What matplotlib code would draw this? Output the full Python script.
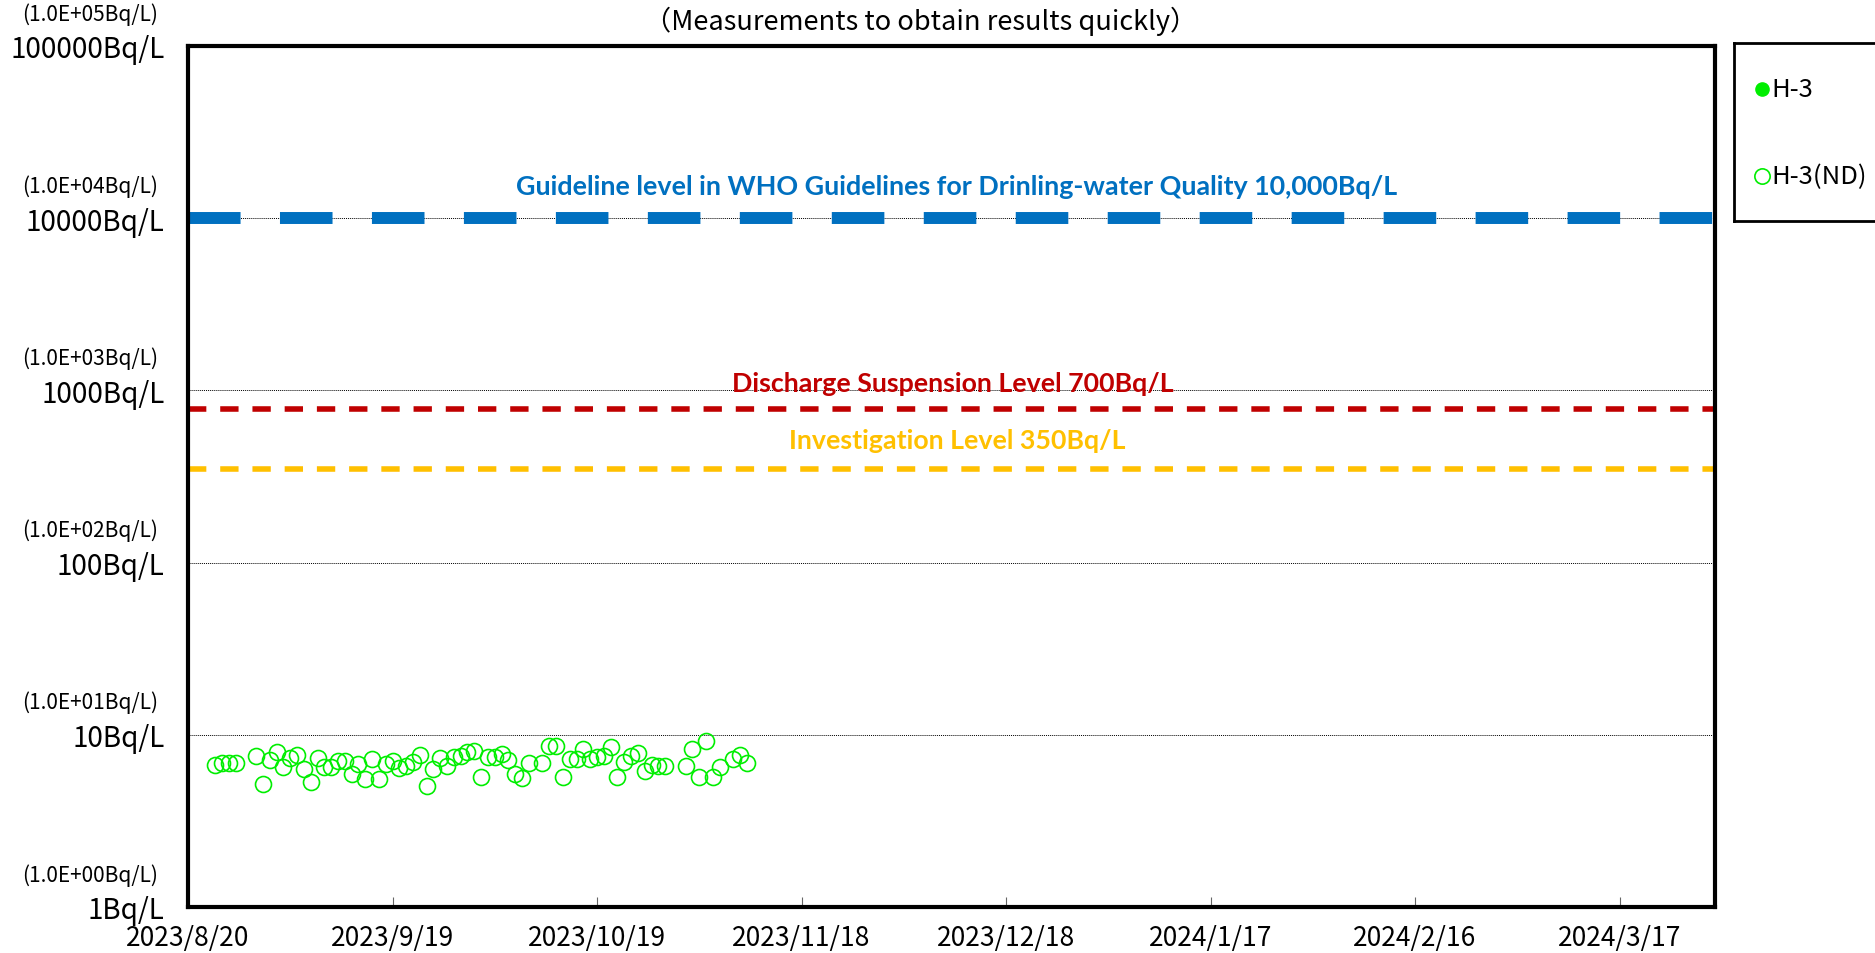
import matplotlib
matplotlib.use('Agg')
import matplotlib.pyplot as plt
import matplotlib.dates as mdates
import datetime as dt

plt.rcParams['font.family'] = ['Noto Sans CJK JP', 'DejaVu Sans']

# ---------------- data ----------------
nd_dates = [
    "2023-08-24", "2023-08-25", "2023-08-26", "2023-08-27", "2023-08-30", "2023-08-31",
    "2023-09-01", "2023-09-02", "2023-09-03", "2023-09-04", "2023-09-05", "2023-09-06",
    "2023-09-07", "2023-09-08", "2023-09-09", "2023-09-10", "2023-09-11", "2023-09-12",
    "2023-09-13", "2023-09-14", "2023-09-15", "2023-09-16", "2023-09-17", "2023-09-18",
    "2023-09-19", "2023-09-20", "2023-09-21", "2023-09-22", "2023-09-23", "2023-09-24",
    "2023-09-25", "2023-09-26", "2023-09-27", "2023-09-28", "2023-09-29", "2023-09-30",
    "2023-10-01", "2023-10-02", "2023-10-03", "2023-10-04", "2023-10-05", "2023-10-06",
    "2023-10-07", "2023-10-08", "2023-10-09", "2023-10-11", "2023-10-12", "2023-10-13",
    "2023-10-14", "2023-10-15", "2023-10-16", "2023-10-17", "2023-10-18", "2023-10-19",
    "2023-10-20", "2023-10-21", "2023-10-22", "2023-10-23", "2023-10-24", "2023-10-25",
    "2023-10-26", "2023-10-27", "2023-10-28", "2023-10-29", "2023-11-01", "2023-11-02",
    "2023-11-03", "2023-11-04", "2023-11-05", "2023-11-06", "2023-11-08", "2023-11-09",
    "2023-11-10",
]
nd_values = [
    6.7, 6.9, 6.9, 6.85, 7.55, 5.2,
    7.15, 7.95, 6.5, 7.35, 7.65, 6.35,
    5.35, 7.35, 6.5, 6.5, 7.05, 7.05,
    5.95, 6.8, 5.55, 7.25, 5.55, 6.8,
    7.05, 6.45, 6.6, 6.95, 7.65, 5.05,
    6.35, 7.35, 6.6, 7.45, 7.55, 7.95,
    8.05, 5.7, 7.45, 7.45, 7.75, 7.15,
    5.95, 5.6, 6.9, 6.9, 8.6, 8.6,
    5.7, 7.25, 7.25, 8.3, 7.25, 7.45,
    7.55, 8.5, 5.7, 6.95, 7.55, 7.85,
    6.15, 6.7, 6.6, 6.6, 6.6, 8.3,
    5.7, 9.2, 5.7, 6.5, 7.25, 7.65,
    6.9,
]

x_start = "2023-08-20"
x_end = "2024-03-31"
x_tick_dates = ["2023-08-20", "2023-09-19", "2023-10-19", "2023-11-18",
                "2023-12-18", "2024-01-17", "2024-02-16", "2024-03-17"]
x_tick_labels = ["2023/8/20", "2023/9/19", "2023/10/19", "2023/11/18",
                 "2023/12/18", "2024/1/17", "2024/2/16", "2024/3/17"]

y_ticks = [1, 10, 100, 1000, 10000, 100000]
y_tick_labels = ["1Bq/L", "10Bq/L", "100Bq/L", "1000Bq/L", "10000Bq/L", "100000Bq/L"]
y_tick_sci = ["(1.0E+00Bq/L)", "(1.0E+01Bq/L)", "(1.0E+02Bq/L)",
              "(1.0E+03Bq/L)", "(1.0E+04Bq/L)", "(1.0E+05Bq/L)"]

who_level = 10000
discharge_level = 775   # drawn position (label says 700)
investigation_level = 350

title = "（Measurements to obtain results quickly）"
who_text = "Guideline level in WHO Guidelines for Drinling-water Quality 10,000Bq/L"
discharge_text = "Discharge Suspension Level 700Bq/L"
investigation_text = "Investigation Level 350Bq/L"
legend_labels = ["H-3", "H-3(ND)"]

# ---------------- figure ----------------
W, H = 1875, 954
fig = plt.figure(figsize=(W / 100, H / 100), dpi=100)
L, R, T, B = 188, 1715, 47, 908
ax = fig.add_axes([L / W, 1 - B / H, (R - L) / W, (B - T) / H])

def d(s):
    return dt.datetime.strptime(s, "%Y-%m-%d")

green = '#00EE00'

ax.set_yscale('log')
ax.set_ylim(1, 100000)
ax.set_xlim(d(x_start), d(x_end))

# grid lines
for v in y_ticks[1:-1]:
    ax.axhline(v, color='black', lw=0.7, ls=(0, (1, 1)), zorder=1)

# reference lines
ax.axhline(who_level, color='#0070C0', lw=8.6, dashes=(4.4, 3.3), zorder=2)
ax.axhline(discharge_level, color='#C00000', lw=4.0, dashes=(3.3, 2.5), zorder=2)
ax.axhline(investigation_level, color='#FFC000', lw=4.0, dashes=(3.3, 2.5), zorder=2)

# data
ax.plot([d(s) for s in nd_dates], nd_values, ls='none', marker='o', ms=11.5,
        mfc='none', mec=green, mew=1.2, zorder=3, clip_on=False)

# axes styling
for sp in ax.spines.values():
    sp.set_linewidth(3)
    sp.set_color('black')

ax.set_xticks([d(s) for s in x_tick_dates])
ax.set_xticklabels(x_tick_labels, fontsize=19)
ax.tick_params(axis='x', direction='in', length=7, width=0.8, color='#666666', pad=12)
ax.minorticks_off()
ax.set_yticks(y_ticks)
ax.set_yticklabels(y_tick_labels, fontsize=20)
ax.tick_params(axis='y', length=0, pad=17)
ax.yaxis.set_minor_locator(matplotlib.ticker.NullLocator())

for v, s in zip(y_ticks, y_tick_sci):
    ax.annotate(s, xy=(0, v), xycoords=('axes fraction', 'data'),
                xytext=(-21.5, 23.5), textcoords='offset points',
                ha='right', va='center', fontsize=15)

# level labels
t1 = ax.text((957 - L) / (R - L), (B - 187) / (B - T), who_text, transform=ax.transAxes,
             ha='center', va='center', color='#0070C0', fontsize=17,
             fontweight='bold', family='Lato')
t2 = ax.text((953 - L) / (R - L), (B - 384) / (B - T), discharge_text, transform=ax.transAxes,
             ha='center', va='center', color='#C00000', fontsize=17,
             fontweight='bold', family='Lato')
t3 = ax.text((957 - L) / (R - L), (B - 441) / (B - T), investigation_text, transform=ax.transAxes,
             ha='center', va='center', color='#FFC000', fontsize=17,
             fontweight='bold', family='Lato')

tt = fig.text(921 / W, 1 - 21 / H, title, ha='center', va='center', fontsize=17)

# fit text widths
fig.canvas.draw()
rend = fig.canvas.get_renderer()
for art, target in [(t1, 885), (t2, 443), (t3, 338), (tt, 552)]:
    w = art.get_window_extent(rend).width
    art.set_fontsize(art.get_fontsize() * target / w)

# legend box
lx0, ly0, lx1, ly1 = 1734, 44, 1890, 222
lax = fig.add_axes([lx0 / W, 1 - ly1 / H, (lx1 - lx0) / W, (ly1 - ly0) / H])
lax.set_xlim(lx0, lx1)
lax.set_ylim(ly1, ly0)
lax.set_xticks([])
lax.set_yticks([])
for sp in lax.spines.values():
    sp.set_linewidth(2)
lax.plot([1762], [90], 'o', ms=9.5, color=green, mec=green)
lax.plot([1762], [177], 'o', ms=11, mfc='none', mec=green, mew=1.2)
lax.text(1771, 90, legend_labels[0], ha='left', va='center', fontsize=18.5)
lax.text(1771, 177, legend_labels[1], ha='left', va='center', fontsize=18.5)

fig.savefig('out.png', dpi=100)
